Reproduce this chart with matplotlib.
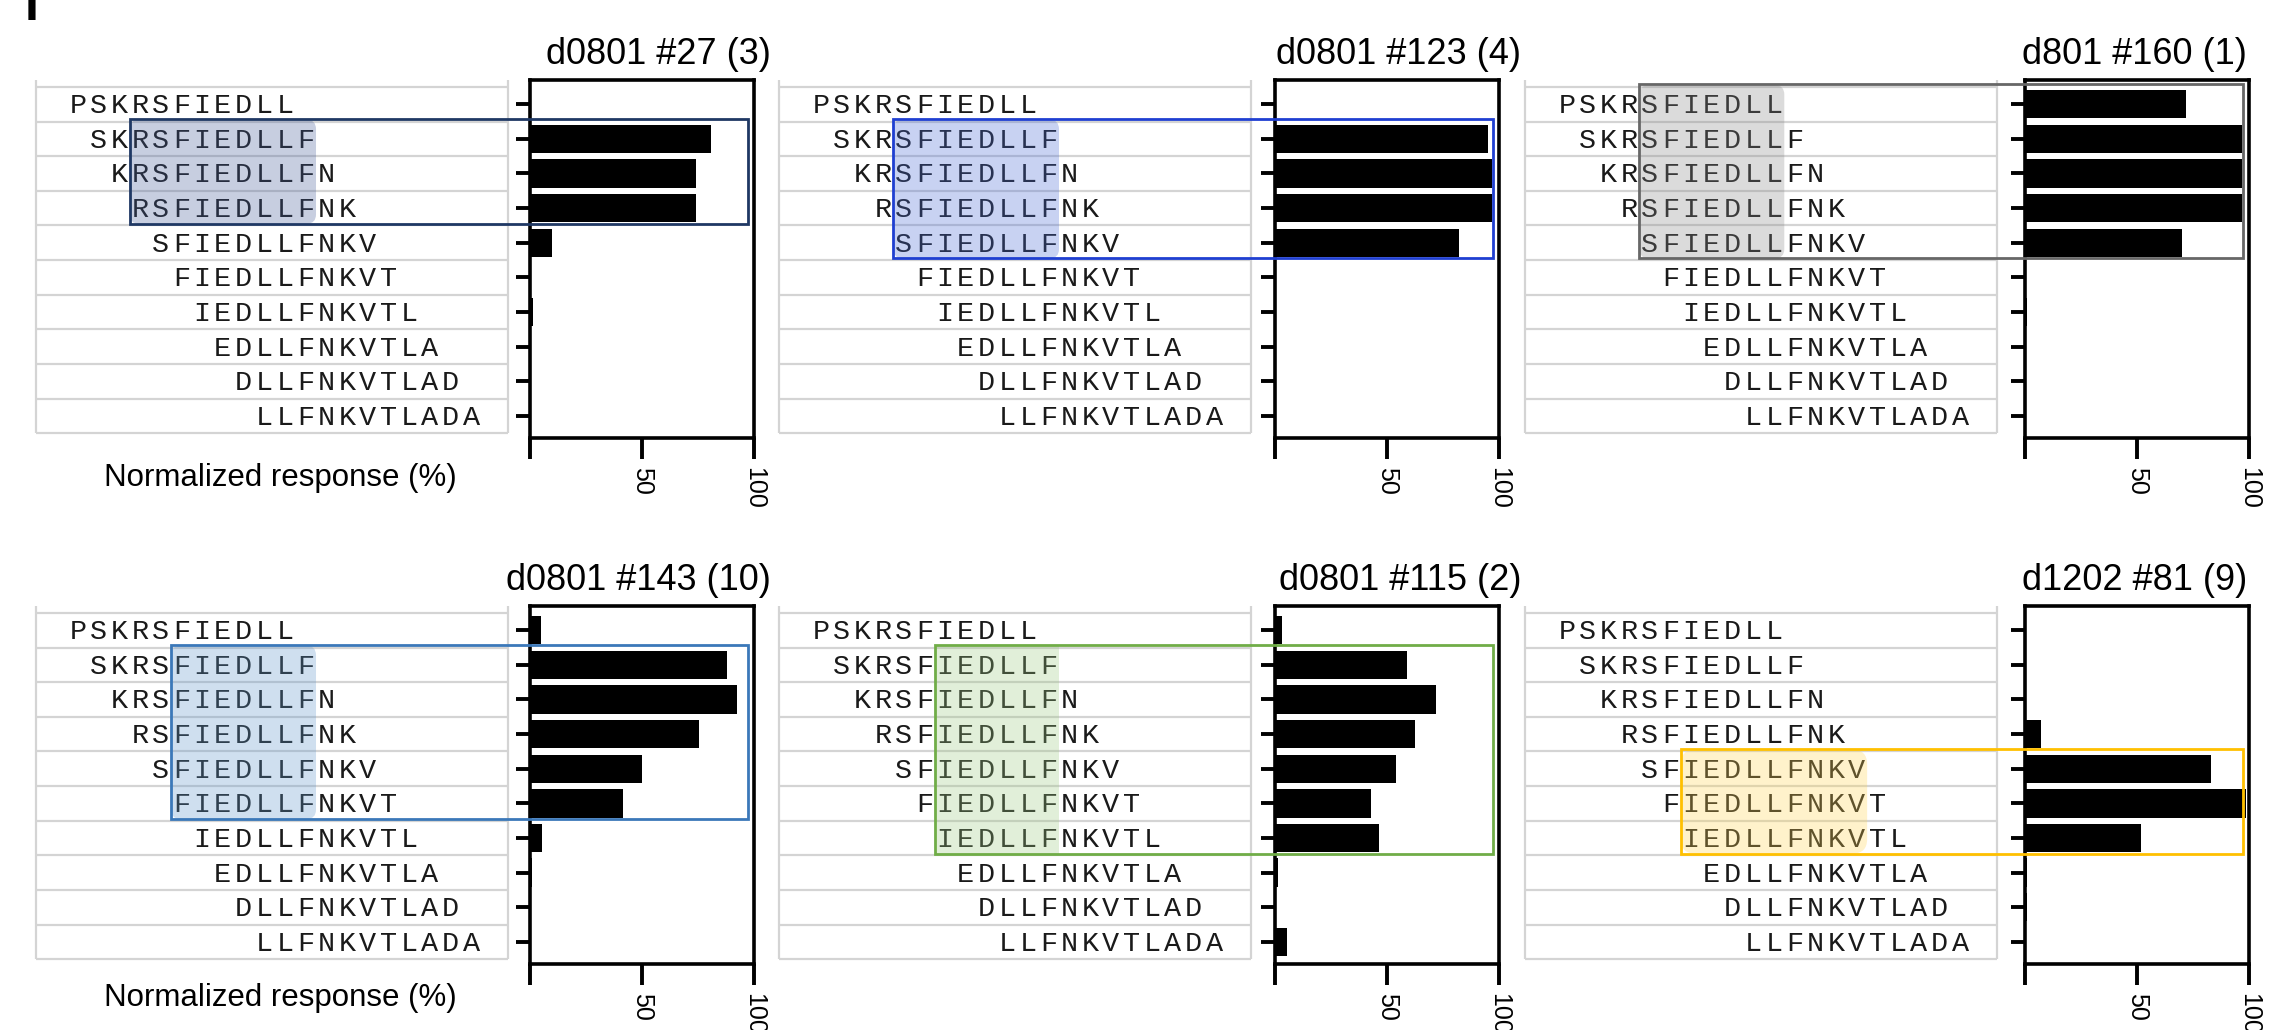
import matplotlib
matplotlib.use('Agg')
import matplotlib.pyplot as plt
from matplotlib.patches import Rectangle, FancyBboxPatch

# overlapping 11-mer peptides, each one shifted by one residue
peptides = ['PSKRSFIEDLL', 'SKRSFIEDLLF', 'KRSFIEDLLFN', 'RSFIEDLLFNK', 'SFIEDLLFNKV',
            'FIEDLLFNKVT', 'IEDLLFNKVTL', 'EDLLFNKVTLA', 'DLLFNKVTLAD', 'LLFNKVTLADA']

titles = ['d0801 #27 (3)', 'd0801 #123 (4)', 'd801 #160 (1)',
          'd0801 #143 (10)', 'd0801 #115 (2)', 'd1202 #81 (9)']

# normalized response (%) per peptide
resp_27 = [0, 81, 74, 74, 10, 0, 1.5, 0, 0, 0]
resp_123 = [0, 95, 97, 97, 82, 0, 0, 0, 0, 0]
resp_160 = [72, 97, 97, 97, 70, 0.5, 1, 0, 0, 0]
resp_143 = [5, 88, 92.5, 75.5, 50, 41.5, 5.5, 1, 0.5, 0]
resp_115 = [3, 59, 72, 62.5, 54, 43, 46.5, 1.3, 0, 5.5]
resp_81 = [0, 0, 0, 7, 83, 98.5, 52, 1, 1, 0]
responses = [resp_27, resp_123, resp_160, resp_143, resp_115, resp_81]

# boxed peptides (first row, last row) and shaded minimal core (first residue, end residue)
box_rows = [(1, 3), (1, 4), (0, 4), (1, 5), (1, 6), (4, 6)]
core_cols = [(3, 12), (4, 12), (4, 11), (5, 12), (6, 12), (6, 15)]

xticks = [0, 50, 100]
xticklabels = ['', '50', '100']

box_colors = ['#1f3864', '#1f3fd1', '#676767', '#3b78b9', '#70ad47', '#ffc000']
shade_colors = ['#485f9b', '#4b6cd4', '#8a8a8a', '#6298cd', '#9eca84', '#ffd455']
corner = [0.45, 0.45, 0.45, 0.45, 0.0, 0.7]

plt.rcParams['font.family'] = 'Liberation Sans'

W, H = 2270, 1030
fig = plt.figure(figsize=(W / 100, H / 100), dpi=100)

# layout in pixels (from top-left)
col_table = [36, 779, 1525]
col_bar = [530, 1275, 2025]
table_w, bar_w = 472, 224
row_top = [80, 606]
ax_h = 358
label_dy = [48, 42]
title_dx = [17, 22, -2]
ylim = (9.64, -0.70)
xlim_t = (-1.52, 21.27)


def fig_rect(x, y, w, h):
    return [x / W, 1 - (y + h) / H, w / W, h / H]


ppc = table_w / (xlim_t[1] - xlim_t[0])
ppr = ax_h / (ylim[0] - ylim[1])
inv = fig.transFigure.inverted()

for i in range(6):
    r, c = divmod(i, 3)

    # peptide table
    axt = fig.add_axes(fig_rect(col_table[c], row_top[r], table_w, ax_h))
    axt.set_xlim(*xlim_t)
    axt.set_ylim(*ylim)
    axt.axis('off')
    for k in range(len(peptides) + 1):
        axt.plot(xlim_t, [k - 0.5, k - 0.5], color='#d4d4d4', lw=1.6,
                 solid_capstyle='butt', clip_on=False, zorder=1)
    for x in xlim_t:
        axt.plot([x, x], [ylim[1], len(peptides) - 0.5], color='#d4d4d4', lw=1.6,
                 solid_capstyle='butt', clip_on=False, zorder=1)
    for j, pep in enumerate(peptides):
        for k, ch in enumerate(pep):
            axt.text(j + k + 0.5, j + 0.26, ch, ha='center', va='baseline',
                     family='Liberation Mono', fontsize=20.5, color='#1a1a1a', zorder=3)

    f, l = box_rows[i]
    s0, s1 = core_cols[i]
    if corner[i] > 0:
        style = f'round,pad=0,rounding_size={corner[i]}'
    else:
        style = 'square,pad=0'
    axt.add_patch(FancyBboxPatch((s0, f - 0.55), s1 - s0, l - f + 1.0, boxstyle=style,
                                 mutation_aspect=ppc / ppr, fc=shade_colors[i], ec='none',
                                 alpha=0.3, zorder=4))

    # bar chart
    axb = fig.add_axes(fig_rect(col_bar[c], row_top[r], bar_w, ax_h))
    axb.barh(range(len(peptides)), responses[i], height=0.82, color='black', zorder=2)
    axb.set_xlim(0, 100)
    axb.set_ylim(*ylim)
    axb.set_yticks(range(len(peptides)))
    axb.tick_params(axis='y', labelleft=False, length=10, width=2.8, direction='out')
    axb.set_xticks(xticks)
    axb.set_xticklabels(xticklabels, rotation=-90, fontsize=18)
    axb.tick_params(axis='x', length=15, width=2.8, pad=6, direction='out')
    for sp in axb.spines.values():
        sp.set_linewidth(2.6)
    axb.text(1 + title_dx[c] / bar_w, 1 + 16 / ax_h, titles[i], transform=axb.transAxes,
             ha='right', va='baseline', fontsize=26)

    # box around the responding peptides, spanning table and bars
    p0 = inv.transform(axt.transData.transform((s0, f - 0.58)))
    p1 = inv.transform(axb.transData.transform((97.4, l + 0.45)))
    fig.add_artist(Rectangle((p0[0], min(p0[1], p1[1])), p1[0] - p0[0], abs(p1[1] - p0[1]),
                             transform=fig.transFigure, fill=False, ec=box_colors[i],
                             lw=2, zorder=5))

    if c == 0:
        fig.text(280 / W, 1 - (row_top[r] + ax_h + label_dy[r]) / H, 'Normalized response (%)',
                 ha='center', va='baseline', fontsize=22.5)

fig.text(25 / W, 1 - 20 / H, 'I', fontsize=36, fontweight='bold', ha='left', va='baseline')

fig.savefig('out.png', dpi=100)
